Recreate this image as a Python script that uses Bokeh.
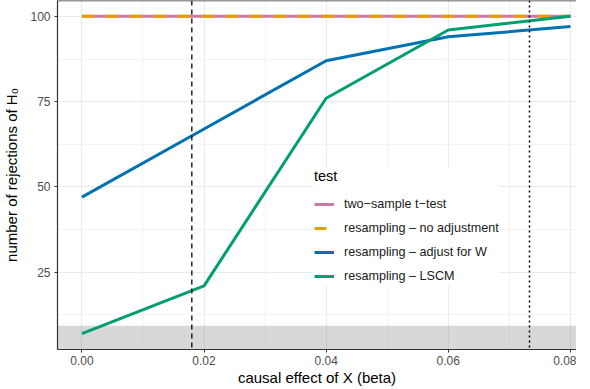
from bokeh.plotting import figure
from bokeh.models import (Range1d, FixedTicker, NumeralTickFormatter, Span,
                          BoxAnnotation, Legend, LegendItem)
from bokeh.embed import file_html
from bokeh.resources import INLINE

# ---- data ----
beta = [0.00, 0.02, 0.04, 0.06, 0.08]
ttest = [100, 100, 100, 100, 100]
resamp_noadj = [100, 100, 100, 100, 100]
resamp_adjW = [47, 67, 87, 94, 97]
resamp_lscm = [7, 21, 76, 96, 100]
series_names = ["two\u2212sample t\u2212test", "resampling \u2013 no adjustment",
                "resampling \u2013 adjust for W", "resampling \u2013 LSCM"]
series_colors = ["#CC79A7", "#E69F00", "#0072B2", "#009E73"]
x_ticks = [0.00, 0.02, 0.04, 0.06, 0.08]
x_minor = [0.01, 0.03, 0.05, 0.07]
y_ticks = [25, 50, 75, 100]
y_minor = [12.5, 37.5, 62.5, 87.5]
vline_dashed = 0.018
vline_dotted = 0.0733
band_top = 9.3

FONT = "Liberation Sans"
y_lo, y_hi = 2.35, 104.65
FW, FH = 519, 349

p = figure(frame_width=FW, frame_height=FH, output_backend="svg",
           toolbar_location=None,
           x_range=Range1d(-0.004, 0.081), y_range=Range1d(y_lo, y_hi),
           min_border_left=55, min_border_right=0, min_border_top=0,
           min_border_bottom=30)
p.outline_line_color = None
p.background_fill_color = "white"

# grid
p.xaxis.ticker = FixedTicker(ticks=x_ticks, minor_ticks=x_minor)
p.yaxis.ticker = FixedTicker(ticks=y_ticks, minor_ticks=y_minor)
for g in (p.xgrid, p.ygrid):
    g.grid_line_color = "#EBEBEB"
    g.grid_line_width = 1.1
    g.minor_grid_line_color = "#EBEBEB"
    g.minor_grid_line_width = 0.6

# grey band
p.add_layout(BoxAnnotation(top=band_top, fill_color="#7F7F7F", fill_alpha=0.3,
                           line_color=None, level="underlay"))

# vertical reference lines
p.add_layout(Span(location=vline_dashed, dimension="height", line_color="black",
                  line_width=1.3, line_dash="5 4"))
p.add_layout(Span(location=vline_dotted, dimension="height", line_color="black",
                  line_width=1.5, line_dash="2 3"))

r1 = p.line(beta, ttest, line_color=series_colors[0], line_width=3)
r2 = p.line(beta, resamp_noadj, line_color=series_colors[1], line_width=3,
            line_dash="12 12")
r3 = p.line(beta, resamp_adjW, line_color=series_colors[2], line_width=3)
r4 = p.line(beta, resamp_lscm, line_color=series_colors[3], line_width=3)

# top border
p.add_layout(Span(location=y_hi, dimension="width", line_color="#333333",
                  line_width=1.5))

# axes
for ax in (p.xaxis, p.yaxis):
    ax.axis_line_color = "#333333"
    ax.axis_line_width = 1.2
    ax.major_tick_line_color = "#333333"
    ax.major_tick_in = 0
    ax.major_tick_out = 3
    ax.minor_tick_line_color = None
    ax.major_label_text_font = FONT
    ax.major_label_text_font_size = "12px"
    ax.major_label_text_color = "#4D4D4D"
    ax.axis_label_text_font = FONT
    ax.axis_label_text_font_size = "15px"
    ax.axis_label_text_font_style = "normal"
    ax.axis_label_text_color = "black"

p.xaxis.formatter = NumeralTickFormatter(format="0.00")
p.xaxis.axis_label = "causal effect of X (beta)"
p.xaxis.major_label_standoff = 2
p.xaxis.axis_label_standoff = 1
p.yaxis.axis_label = "number of rejections of H\u2080"
p.yaxis.major_label_standoff = 3
p.yaxis.axis_label_standoff = 7

legend = Legend(items=[LegendItem(label=series_names[0], renderers=[r1]),
                       LegendItem(label=series_names[1], renderers=[r2]),
                       LegendItem(label=series_names[2], renderers=[r3]),
                       LegendItem(label=series_names[3], renderers=[r4])],
                location=(257, 63), title="test")
legend.title_text_font = FONT
legend.title_text_font_size = "14.5px"
legend.title_text_font_style = "normal"
legend.title_text_color = "black"
legend.title_standoff = 10
legend.label_text_font = FONT
legend.label_text_font_size = "12.6px"
legend.label_text_color = "#1A1A1A"
legend.glyph_width = 20
legend.glyph_height = 20
legend.label_height = 20
legend.spacing = 4
legend.label_standoff = 10
legend.padding = 10
legend.margin = 0
legend.border_line_color = None
legend.background_fill_color = "white"
legend.background_fill_alpha = 1.0
p.add_layout(legend, "center")

open("out.html", "w").write(file_html(p, INLINE))
